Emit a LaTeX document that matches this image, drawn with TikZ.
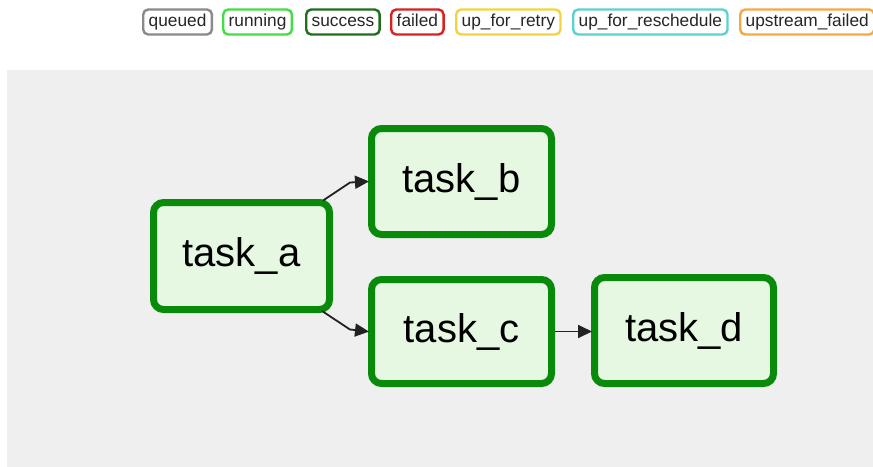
\documentclass[tikz,border=0pt]{standalone}
\usepackage{fontspec}
\setmainfont{Liberation Sans}
\usetikzlibrary{arrows.meta,calc}

\definecolor{bgpanel}{HTML}{EFEFEF}
\definecolor{okborder}{HTML}{0A8A0A}
\definecolor{okfill}{HTML}{E6F7E2}
\definecolor{edgeclr}{HTML}{222222}
\definecolor{stqueued}{HTML}{8A8A8A}
\definecolor{strunning}{HTML}{44DD44}
\definecolor{stsuccess}{HTML}{1E6E1E}
\definecolor{stfailed}{HTML}{D82222}
\definecolor{stretry}{HTML}{F2D440}
\definecolor{stresched}{HTML}{5CD2CF}
\definecolor{stupfailed}{HTML}{F3A942}

\tikzset{
  legendbox/.style={draw=#1, line width=2.4pt, rounded corners=5pt,
    anchor=west, inner xsep=5.5pt, inner ysep=0pt, minimum height=25pt,
    text height=13pt, text depth=4pt, fill=white,
    font=\fontsize{17.3}{20}\selectfont, text=black!85},
  taskbox/.style={draw=okborder, fill=okfill, line width=7pt,
    rounded corners=10pt, minimum width=177pt, minimum height=105pt,
    inner sep=0pt, font=\fontsize{40}{44}\selectfont, text=black},
  edge/.style={draw=edgeclr, line width=1.8pt,
    -{Triangle[length=14pt,width=13pt]}, shorten >=-1pt}
}

\begin{document}
\begin{tikzpicture}[x=1pt,y=-1pt]
  % canvas and clip
  \useasboundingbox (0,0) rectangle (873,466);
  \clip (0,0) rectangle (873,466);
  \fill[white] (0,0) rectangle (873,466);

  % graph panel
  \fill[bgpanel] (7,70) rectangle (880,470);

  % state legend
  \node[legendbox=stqueued]   (lq)  at (142,22) {queued};
  \node[legendbox=strunning]  (lr)  at (222,22) {running};
  \node[legendbox=stsuccess]  (ls)  at (305,22) {success};
  \node[legendbox=stfailed]   (lf)  at (390,22) {failed};
  \node[legendbox=stretry]    (lt)  at (455,22) {up\_for\_retry};
  \node[legendbox=stresched]  (lrs) at (572,22) {up\_for\_reschedule};
  \node[legendbox=stupfailed] (luf) at (739,22) {upstream\_failed};

  % tasks
  \node[taskbox, minimum width=176pt, minimum height=107pt] (a) at (241.5,256) {task\_a};
  \node[taskbox, minimum width=180pt, minimum height=106pt] (b) at (461.5,181.5) {task\_b};
  \node[taskbox, minimum width=180pt, minimum height=104pt] (c) at (461.5,331.5) {task\_c};
  \node[taskbox, minimum width=179pt, minimum height=106pt] (d) at (684,330.5) {task\_d};

  % dependencies
  \draw[edge] ($(a.north east)+(-10,1.5)$) -- ($(b.west)+(-18,1)$) -- (b.west);
  \draw[edge] ($(a.south east)+(-11,-2)$) -- ($(c.west)+(-18,-2)$) -- (c.west);
  \draw[edge] (c.east) -- (c.east -| d.west);
\end{tikzpicture}
\end{document}
